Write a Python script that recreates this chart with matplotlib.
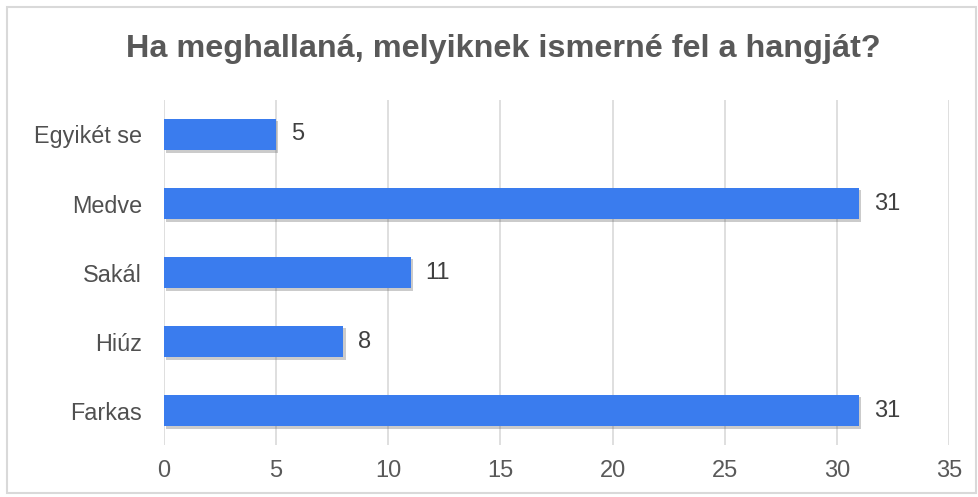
import matplotlib
matplotlib.use("Agg")
import matplotlib.pyplot as plt
from matplotlib.patches import Rectangle
import matplotlib.patheffects as pe

categories = ["Farkas", "Hiúz", "Sakál", "Medve", "Egyikét se"]
values = [31, 8, 11, 31, 5]
xticks = [0, 5, 10, 15, 20, 25, 30, 35]
title = "Ha meghallaná, melyiknek ismerné fel a hangját?"

plt.rcParams['font.family'] = ['Liberation Sans', 'DejaVu Sans']

fig = plt.figure(figsize=(9.79, 4.97), dpi=100)
ax = fig.add_axes([0.1675, 0.1046, 0.8019, 0.6942])

bars = ax.barh(range(len(categories)), values, height=0.46, color="#3A7CEE", zorder=3)
for b in bars:
    b.set_path_effects([pe.SimplePatchShadow(offset=(1.5, -2), shadow_rgbFace="#555555", alpha=0.3), pe.Normal()])

for i, v in enumerate(values):
    ax.text(v + 0.65, i, str(v), va="center", ha="left", fontsize=17, color="#404040")

ax.set_yticks(range(len(categories)))
ax.set_yticklabels(categories, fontsize=16.8, color="#505050")
ax.set_xticks(xticks)
ax.set_xticklabels([str(t) for t in xticks], fontsize=17, color="#595959")
ax.set_xlim(0, 35)
ax.set_ylim(-0.5, len(categories) - 0.5)
ax.tick_params(axis="both", length=0)
ax.tick_params(axis="x", pad=11)
ax.tick_params(axis="y", pad=16)
ax.grid(axis="x", color="#D9D9D9", linewidth=1.2, zorder=0)
for s in ax.spines.values():
    s.set_visible(False)

fig.text(0.514, 0.885, title, ha="center", va="baseline", fontsize=23.3, fontweight="bold", color="#595959")

fig.patches.append(Rectangle((0.007, 0.008), 0.99, 0.978, transform=fig.transFigure,
                             fill=False, edgecolor="#D9D9D9", linewidth=1.5))

fig.savefig("out.png", dpi=100)
